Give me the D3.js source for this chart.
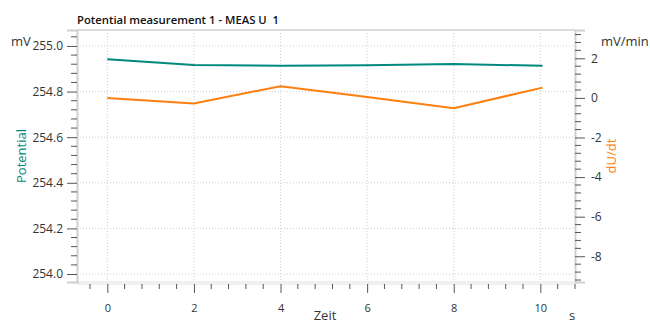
<!DOCTYPE html>
<html><head><meta charset="utf-8">
<script src="https://cdn.jsdelivr.net/npm/d3@7"></script>
<style>
body{margin:0;background:#fff;}
text{font-family:"Open Sans","Noto Sans",sans-serif;}
</style></head>
<body>
<svg id="c" width="650" height="325"></svg>
<script>
const times = [0, 2, 4, 6, 8, 10.05];
const potential = [254.942, 254.917, 254.913, 254.915, 254.921, 254.913];
const dUdt = [0.0, -0.28, 0.59, 0.04, -0.52, 0.52];
const xTicks = [0, 2, 4, 6, 8, 10];
const leftTicks = [254.0, 254.2, 254.4, 254.6, 254.8, 255.0];
const rightTicks = [-8, -6, -4, -2, 0, 2];
const title = "Potential measurement 1 - MEAS U  1";

const svg = d3.select("#c");
const L = 77, R = 575, T = 30, B = 282;
const x = d3.scaleLinear().domain([-0.7, 10.8]).range([L, R]);
const yL = d3.scaleLinear().domain([253.965, 255.07]).range([B, T]);
const yR = d3.scaleLinear().domain([-9.3, 3.43]).range([B, T]);
const teal = "#00897e", orange = "#ff7f0e";

// grid
const g = svg.append("g");
g.selectAll(".gx").data(xTicks).join("line")
  .attr("x1", d => x(d)).attr("x2", d => x(d)).attr("y1", T).attr("y2", B)
  .attr("stroke", "#cfcfcf").attr("stroke-dasharray", "1,2");
g.selectAll(".gy").data(leftTicks).join("line")
  .attr("x1", L).attr("x2", R).attr("y1", d => yL(d)).attr("y2", d => yL(d))
  .attr("stroke", "#cfcfcf").attr("stroke-dasharray", "1,2");

// frame
svg.append("line").attr("x1", L).attr("x2", R).attr("y1", T).attr("y2", T).attr("stroke", "#dcdcdc").attr("stroke-width", 2);
svg.append("rect").attr("x", L).attr("y", B - 1).attr("width", R - L).attr("height", 4).attr("fill", "#efefef");

function minors(lo, hi, step) { const a = []; for (let v = lo; v <= hi + 1e-9; v += step) a.push(+v.toFixed(6)); return a; }

// left axis
const leftAxis = d3.axisLeft(yL).tickValues(leftTicks).tickFormat(d => d.toFixed(1)).tickSize(10).tickPadding(4);
const ga = svg.append("g").attr("transform", `translate(${L},0)`).call(leftAxis);
ga.select(".domain").attr("stroke", "#cfcfcf").attr("stroke-width", 2);
ga.selectAll(".tick line").attr("stroke", "#555");
ga.selectAll(".tick text").attr("font-size", 12).attr("fill", "#333").attr("font-family", "Open Sans");
ga.selectAll(".mn").data(minors(253.96, 255.08, 0.04).filter(v => Math.abs(Math.round(v / 0.2) * 0.2 - v) > 1e-6 && v >= yL.domain()[0] && v <= yL.domain()[1])).join("line")
  .attr("x1", -6).attr("x2", 0).attr("y1", d => yL(d)).attr("y2", d => yL(d)).attr("stroke", "#555");

// right axis
const rightAxis = d3.axisRight(yR).tickValues(rightTicks).tickFormat(d => String(d)).tickSize(10).tickPadding(6);
const gr = svg.append("g").attr("transform", `translate(${R},0)`).call(rightAxis);
gr.select(".domain").attr("stroke", "#cfcfcf").attr("stroke-width", 2);
gr.selectAll(".tick line").attr("stroke", "#555");
gr.selectAll(".tick text").attr("font-size", 12).attr("fill", "#333").attr("font-family", "Open Sans");
gr.selectAll(".mn").data(minors(-9.2, 3.2, 0.4).filter(v => Math.abs(Math.round(v / 2) * 2 - v) > 1e-6 && v >= yR.domain()[0] && v <= yR.domain()[1])).join("line")
  .attr("x1", 0).attr("x2", 6).attr("y1", d => yR(d)).attr("y2", d => yR(d)).attr("stroke", "#555");

// x axis
const xAxis = d3.axisBottom(x).tickValues(xTicks).tickFormat(d => String(d)).tickSize(9).tickPadding(11);
const gx = svg.append("g").attr("transform", `translate(0,${B + 2})`).call(xAxis);
gx.select(".domain").remove();
gx.selectAll(".tick line").attr("stroke", "#555");
gx.selectAll(".tick text").attr("font-size", 11).attr("fill", "#333").attr("font-family", "Open Sans");
gx.selectAll(".mn").data(minors(-0.4, 10.8, 0.4).filter(v => Math.abs(Math.round(v / 2) * 2 - v) > 1e-6)).join("line")
  .attr("x1", d => x(d)).attr("x2", d => x(d)).attr("y1", 0).attr("y2", 5).attr("stroke", "#555");

// lines
svg.append("path").datum(times.map((t, i) => [t, potential[i]]))
  .attr("d", d3.line().x(d => x(d[0])).y(d => yL(d[1])))
  .attr("fill", "none").attr("stroke", teal).attr("stroke-width", 2);
svg.append("path").datum(times.map((t, i) => [t, dUdt[i]]))
  .attr("d", d3.line().x(d => x(d[0])).y(d => yR(d[1])))
  .attr("fill", "none").attr("stroke", orange).attr("stroke-width", 2);

// labels
svg.append("text").attr("x", 77).attr("y", 24).attr("font-size", 11.3).attr("font-weight", 600).attr("fill", "#111").style("white-space", "pre").text(title);
svg.append("text").attr("x", 11).attr("y", 46).attr("font-size", 13).attr("fill", "#333").text("mV");
svg.append("text").attr("x", 601).attr("y", 46).attr("font-size", 13).attr("fill", "#333").text("mV/min");
svg.append("text").attr("transform", "translate(26,156) rotate(-90)").attr("text-anchor", "middle").attr("font-size", 13).attr("fill", teal).text("Potential");
svg.append("text").attr("transform", "translate(616,156) rotate(-90)").attr("text-anchor", "middle").attr("font-size", 13).attr("fill", orange).text("dU/dt");
svg.append("text").attr("x", 325).attr("y", 320).attr("text-anchor", "middle").attr("font-size", 13).attr("fill", "#333").text("Zeit");
svg.append("text").attr("x", 569).attr("y", 320).attr("font-size", 13).attr("fill", "#333").text("s");
</script>
</body></html>
